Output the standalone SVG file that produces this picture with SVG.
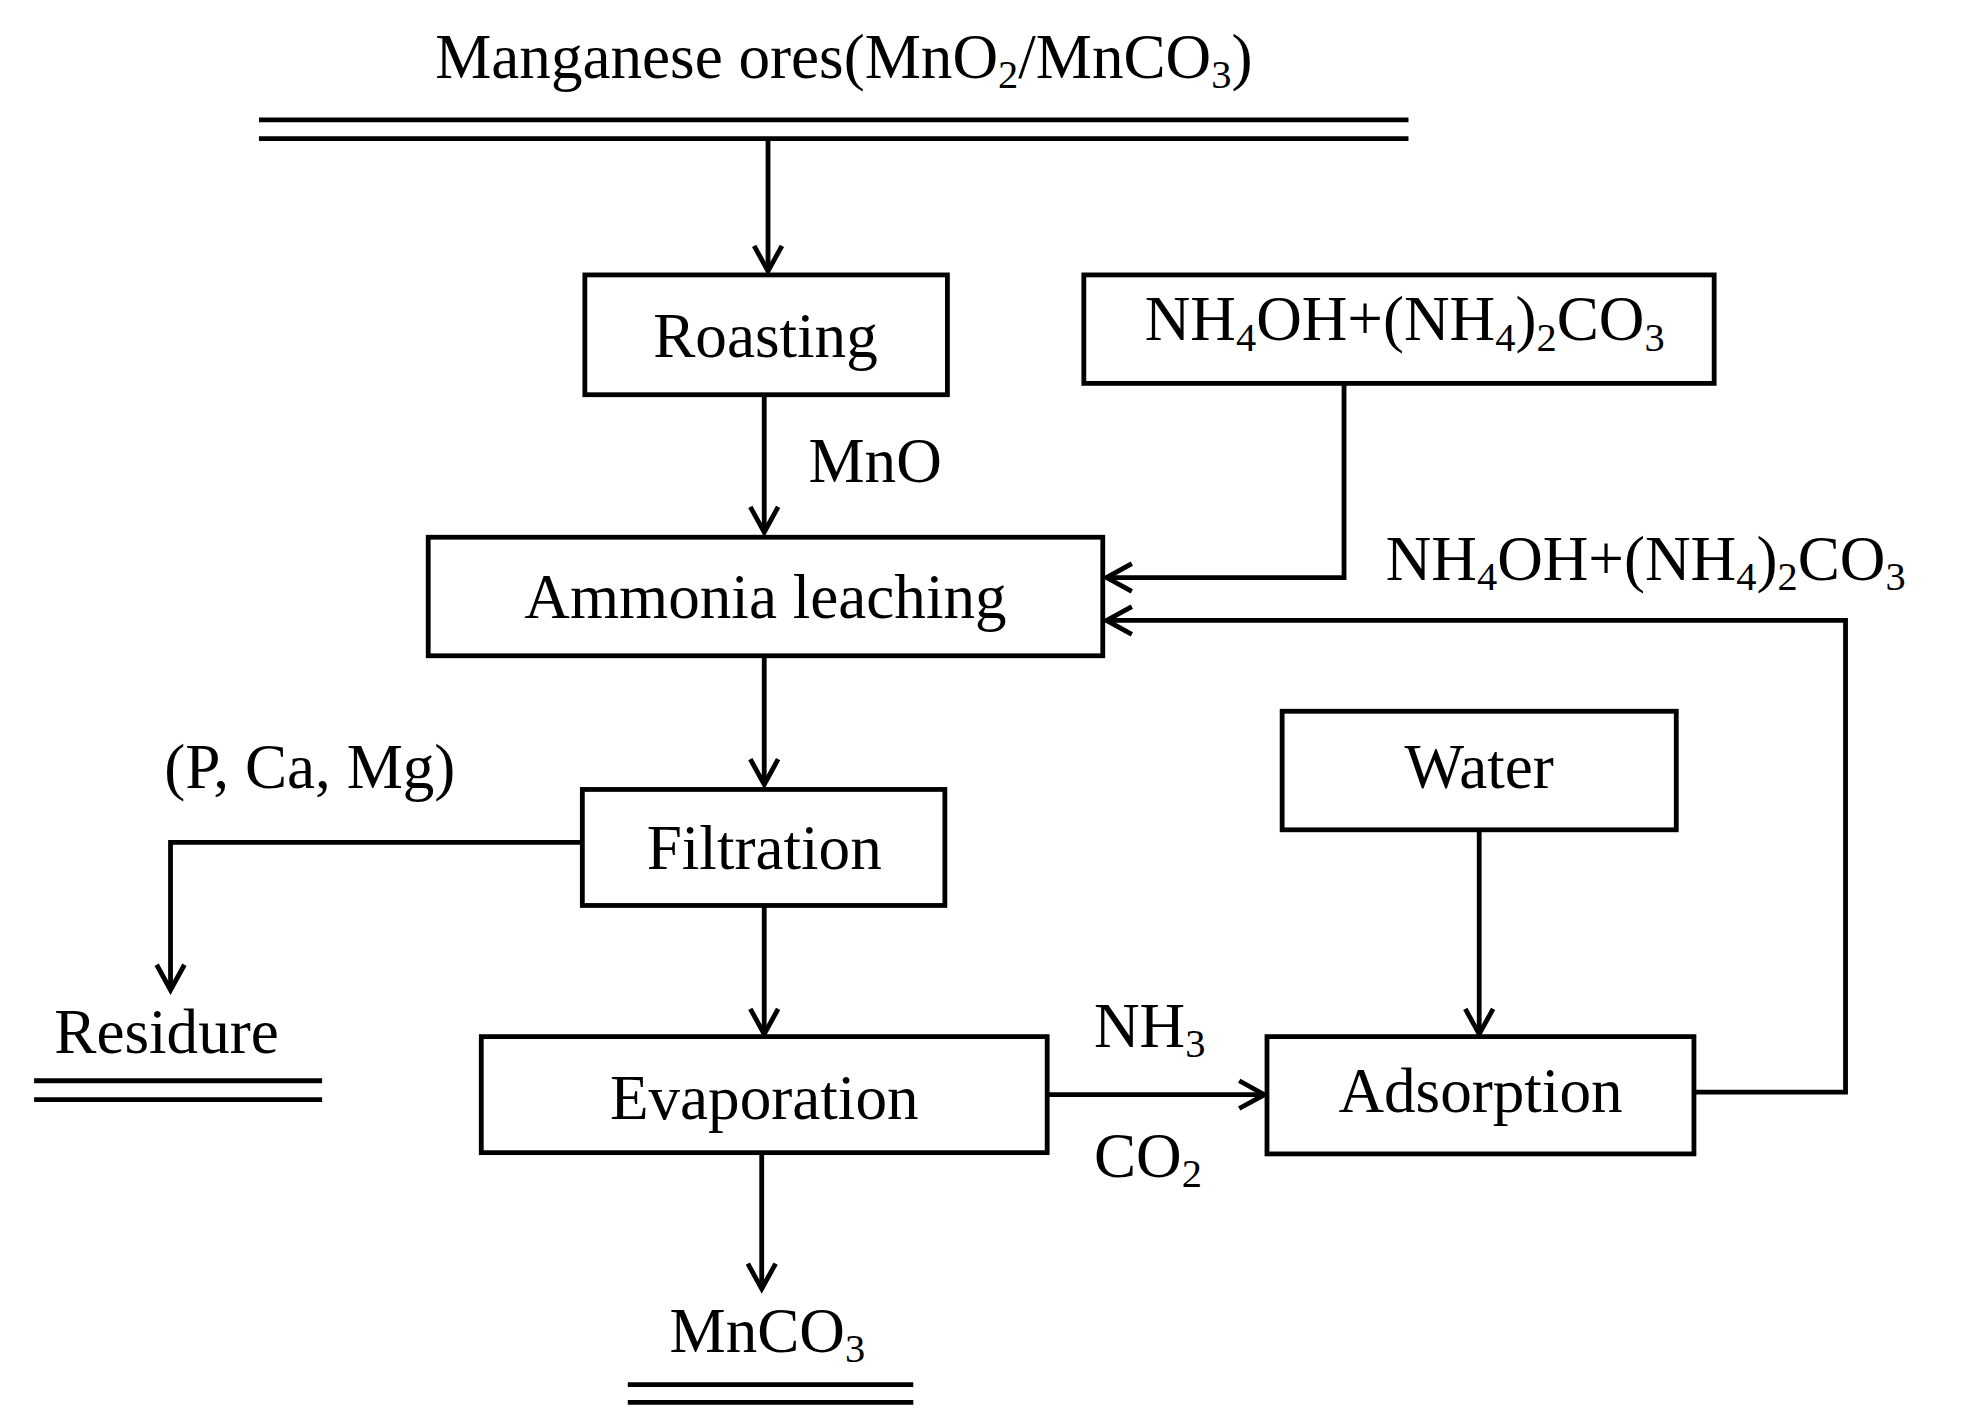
<svg xmlns="http://www.w3.org/2000/svg" width="1963" height="1425" viewBox="0 0 1963 1425">
<style>
.b{fill:#fff;stroke:#000;stroke-width:3.8}
.l{fill:none;stroke:#000;stroke-width:3.8}
.t{font-family:"Liberation Serif",serif;font-size:50px;fill:#000}
.m{text-anchor:middle}
</style>
<defs>
<marker id="a" viewBox="0 0 26 26" refX="23" refY="13" markerWidth="26" markerHeight="26" markerUnits="userSpaceOnUse" orient="auto" overflow="visible">
<path d="M3,2 L23,13 L3,24" fill="none" stroke="#000" stroke-width="3.8"/>
</marker>
</defs>
<rect width="1963" height="1425" fill="#fff"/>
<g transform="scale(1.2632,1.2611)">
<g id="connectors">
<path class="l" d="M608,110 V215" marker-end="url(#a)"/>
<path class="l" d="M605,313 V422" marker-end="url(#a)"/>
<path class="l" d="M1064,304 V458 H876" marker-end="url(#a)"/>
<path class="l" d="M1341,866 H1461 V492 H876" marker-end="url(#a)"/>
<path class="l" d="M605,520 V622" marker-end="url(#a)"/>
<path class="l" d="M461,668 H135 V785" marker-end="url(#a)"/>
<path class="l" d="M605,718 V820" marker-end="url(#a)"/>
<path class="l" d="M1171,658 V820" marker-end="url(#a)"/>
<path class="l" d="M829,868 H1001" marker-end="url(#a)"/>
<path class="l" d="M603,914 V1022" marker-end="url(#a)"/>
</g>
<g id="ores">
<text class="t m" x="668" y="62">Manganese ores(MnO<tspan font-size="32" dy="8">2</tspan><tspan dy="-8">/MnCO</tspan><tspan font-size="32" dy="8">3</tspan><tspan dy="-8">)</tspan></text>
<path class="l" d="M205,95 H1115 M205,110 H1115"/>
</g>
<g id="roasting"><rect class="b" x="463" y="218" width="287" height="95"/><text class="t m" x="606" y="283">Roasting</text></g>
<g id="reagent"><rect class="b" x="858" y="218" width="499" height="86"/><text class="t m" x="1112" y="270">NH<tspan font-size="32" dy="8">4</tspan><tspan dy="-8">OH+(NH</tspan><tspan font-size="32" dy="8">4</tspan><tspan dy="-8">)</tspan><tspan font-size="32" dy="8">2</tspan><tspan dy="-8">CO</tspan><tspan font-size="32" dy="8">3</tspan></text></g>
<text id="mno" class="t" x="640" y="382">MnO</text>
<g id="leaching"><rect class="b" x="339" y="426" width="534" height="94"/><text class="t m" x="606" y="490">Ammonia leaching</text></g>
<text id="recycle" class="t" x="1097" y="460">NH<tspan font-size="32" dy="8">4</tspan><tspan dy="-8">OH+(NH</tspan><tspan font-size="32" dy="8">4</tspan><tspan dy="-8">)</tspan><tspan font-size="32" dy="8">2</tspan><tspan dy="-8">CO</tspan><tspan font-size="32" dy="8">3</tspan></text>
<text id="impurities" class="t" x="130" y="625">(P, Ca, Mg)</text>
<g id="filtration"><rect class="b" x="461" y="626" width="287" height="92"/><text class="t m" x="605" y="689">Filtration</text></g>
<g id="residue"><text class="t" x="43" y="835">Residure</text><path class="l" d="M27,857 H255 M27,872 H255"/></g>
<g id="water"><rect class="b" x="1015" y="564" width="312" height="94"/><text class="t m" x="1171" y="625">Water</text></g>
<g id="evaporation"><rect class="b" x="381" y="822" width="448" height="92"/><text class="t m" x="605" y="887">Evaporation</text></g>
<g id="adsorption"><rect class="b" x="1003" y="822" width="338" height="93"/><text class="t m" x="1172" y="882">Adsorption</text></g>
<text id="nh3" class="t" x="866" y="830">NH<tspan font-size="32" dy="8">3</tspan></text>
<text id="co2" class="t" x="866" y="933">CO<tspan font-size="32" dy="8">2</tspan></text>
<g id="product"><text class="t" x="530" y="1072">MnCO<tspan font-size="32" dy="8">3</tspan></text><path class="l" d="M497,1098 H723 M497,1112 H723"/></g>
</g>
</svg>
